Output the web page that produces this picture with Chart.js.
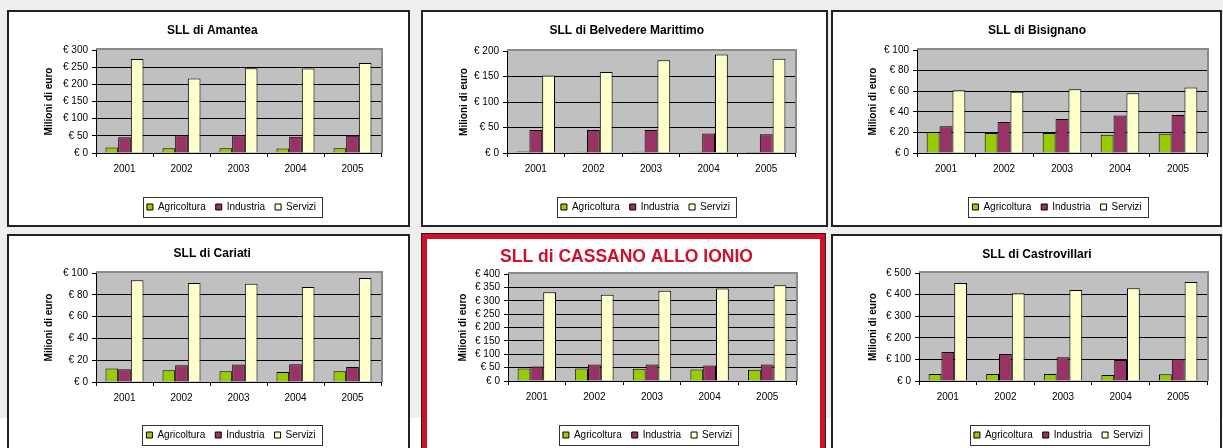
<!DOCTYPE html>
<html><head><meta charset="utf-8">
<script src="https://cdn.jsdelivr.net/npm/chart.js@4/dist/chart.umd.min.js"></script>
<style>
html,body{margin:0;padding:0;}
body{width:1223px;height:448px;position:relative;overflow:hidden;background:#fff;font-family:"Liberation Sans",Arial,sans-serif;}
#bg{position:absolute;left:0;top:0;width:1223px;height:418px;background:#eef0ef;}
.panel{position:absolute;box-sizing:border-box;background:#fff;border:2px solid #222;}
.redpanel{position:absolute;box-sizing:border-box;background:#fff;border:1px solid #222;}
.redpanel>div{position:absolute;left:0;top:0;right:0;bottom:0;border:5px solid #d0102b;}
canvas{position:absolute;}
</style></head>
<body>
<div id="bg"></div>
<div class="panel" style="left:7px;top:10px;width:403px;height:217px"></div>
<div class="panel" style="left:421px;top:10px;width:407px;height:217px"></div>
<div class="panel" style="left:831px;top:10px;width:391px;height:217px"></div>
<div class="panel" style="left:7px;top:234px;width:403px;height:230px"></div>
<div class="redpanel" style="left:421px;top:233px;width:405px;height:230px"><div></div></div>
<div class="panel" style="left:831px;top:234px;width:391px;height:230px"></div>
<script>
// ---------- DATA ----------
const years = ['2001', '2002', '2003', '2004', '2005'];
const seriesNames = ['Agricoltura', 'Industria', 'Servizi'];
const panelTitles = ['SLL di Amantea', 'SLL di Belvedere Marittimo', 'SLL di Bisignano',
                     'SLL di Cariati', 'SLL di CASSANO ALLO IONIO', 'SLL di Castrovillari'];
const yAxisTitle = 'Milioni di euro';
const yAxisMax  = [300, 200, 100, 100, 400, 500];
const yAxisStep = [50, 50, 20, 20, 50, 100];

const amanteaAgricoltura = [16, 14, 14, 13, 14];
const amanteaIndustria   = [46, 52, 52, 47, 50];
const amanteaServizi     = [274, 217, 247, 246, 262];

const belvedereAgricoltura = [3, 2.6, 2.5, 2.5, 2];
const belvedereIndustria   = [45, 45, 45, 38, 37];
const belvedereServizi     = [152, 159, 182, 193, 185];

const bisignanoAgricoltura = [20.3, 19.4, 19.4, 17.7, 18.7];
const bisignanoIndustria   = [26, 30, 33, 36.5, 37];
const bisignanoServizi     = [61, 59.4, 62, 58, 63.5];

const cariatiAgricoltura = [12.3, 10.7, 9.8, 9.2, 9.8];
const cariatiIndustria   = [11.7, 15.3, 16, 16.3, 13.8];
const cariatiServizi     = [93.3, 90.8, 90.2, 87.1, 95.4];

const cassanoAgricoltura = [47, 47, 46, 43, 42];
const cassanoIndustria   = [54, 62, 62, 58, 62];
const cassanoServizi     = [332, 322, 337, 346, 358];

const castrovillariAgricoltura = [32, 32, 32, 28, 31];
const castrovillariIndustria   = [134, 125, 110, 97, 99];
const castrovillariServizi     = [454, 406, 421, 429, 458];

// ---------- STYLE / LAYOUT ----------
const seriesColors = ['#99cc00', '#993366', '#ffffcc'];
const FONT = '"Liberation Sans", Arial, sans-serif';

const panels = [
  {i:0, data:[amanteaAgricoltura, amanteaIndustria, amanteaServizi],
   canvas:[9,12,399,213], plot:[96,50,381,153], titleY:31, legendX:231.5, legendY:207, axisTitleX:49.5},
  {i:1, data:[belvedereAgricoltura, belvedereIndustria, belvedereServizi],
   canvas:[423,12,403,213], plot:[507,51,795,153], titleY:31, legendX:645.5, legendY:207, axisTitleX:464.5},
  {i:2, data:[bisignanoAgricoltura, bisignanoIndustria, bisignanoServizi],
   canvas:[833,12,387,213], plot:[917,50,1207,153], titleY:31, legendX:1057, legendY:207, axisTitleX:873},
  {i:3, data:[cariatiAgricoltura, cariatiIndustria, cariatiServizi],
   canvas:[9,236,399,220], plot:[96,273,381,382], titleY:254, legendX:231, legendY:435, axisTitleX:49.5},
  {i:4, data:[cassanoAgricoltura, cassanoIndustria, cassanoServizi],
   canvas:[427,239,393,220], plot:[508,274,796,381], titleY:257, legendX:647.5, legendY:435, axisTitleX:463,
   titleFont:{family:FONT, size:17.5, weight:'bold', lineHeight:1.2}, titleColor:'#d0102b'},
  {i:5, data:[castrovillariAgricoltura, castrovillariIndustria, castrovillariServizi],
   canvas:[833,236,387,220], plot:[919,273,1207,381], titleY:255, legendX:1058.5, legendY:435, axisTitleX:873}
];

const plotDeco = {
  id: 'plotDeco',
  beforeDraw(chart) {
    const {ctx, chartArea: a} = chart;
    ctx.save();
    ctx.fillStyle = '#c0c0c0';
    ctx.fillRect(a.left, a.top, a.right - a.left, a.bottom - a.top);
    ctx.fillStyle = '#8a8a8a';
    ctx.fillRect(a.left, a.top - 2, a.right - a.left + 2, 2);
    ctx.fillRect(a.right, a.top - 2, 2, a.bottom - a.top + 2);
    ctx.restore();
  },
  afterLayout(chart, args, opts) {
    const lg = chart.legend;
    if (!lg) return;
    const w = lg.right - lg.left;
    lg.left = opts.legendX - w / 2;
    lg.right = opts.legendX + w / 2;
  },
  afterDraw(chart) {
    const hb = chart.legend && chart.legend.legendHitBoxes;
    if (!hb || !hb.length) return;
    const f = hb[0], l = hb[hb.length - 1];
    const x1 = Math.round(f.left - 4) + 0.5, x2 = Math.round(l.left + l.width + 6) + 0.5;
    const y1 = Math.round(f.top - 5) + 0.5, y2 = Math.round(f.top + f.height + 5) + 0.5;
    const ctx = chart.ctx;
    ctx.save();
    ctx.strokeStyle = '#333';
    ctx.lineWidth = 1;
    ctx.strokeRect(x1, y1, x2 - x1, y2 - y1);
    ctx.restore();
  }
};

panels.forEach(p => {
  const [cx, cy, cw, ch] = p.canvas;
  const [L, T, R, B] = p.plot;
  const cnv = document.createElement('canvas');
  cnv.width = cw; cnv.height = ch;
  cnv.style.left = cx + 'px'; cnv.style.top = cy + 'px';
  cnv.style.width = cw + 'px'; cnv.style.height = ch + 'px';
  document.body.appendChild(cnv);

  const l = L - cx, t = T - cy, r = R - cx, b = B - cy;
  const tf = p.titleFont || {family: FONT, size: 12, weight: 'bold', lineHeight: 1.2};
  const tLH = tf.size * tf.lineHeight;
  const tPadTop = (p.titleY - cy) - tLH / 2;
  const tPadBottom = t - tPadTop - tLH;
  const axLH = 12;
  const pl = p.axisTitleX - cx - axLH / 2;
  const yw = l - pl;
  const pr = cw - r;
  const lp = 10, itemH = 10;
  const legH = itemH + lp + 10;
  const legTop = (p.legendY - cy) - lp - itemH / 2;
  const pb = ch - legTop - legH;
  const xh = legTop - b;
  const max = yAxisMax[p.i], step = yAxisStep[p.i];

  new Chart(cnv, {
    type: 'bar',
    data: {
      labels: years,
      datasets: p.data.map((d, k) => ({
        label: seriesNames[k], data: d,
        backgroundColor: seriesColors[k], borderColor: '#000', borderWidth: 1,
        categoryPercentage: 0.667, barPercentage: 1
      }))
    },
    options: {
      responsive: false, animation: false, devicePixelRatio: 1,
      layout: {padding: {left: pl, right: pr, top: 0, bottom: pb}},
      plugins: {
        title: {display: true, text: panelTitles[p.i], color: p.titleColor || '#000',
                font: tf, padding: {top: tPadTop, bottom: tPadBottom}},
        legend: {position: 'bottom',
                 labels: {boxWidth: 6, boxHeight: 6, padding: lp, color: '#000',
                          font: {family: FONT, size: 10}}},
        tooltip: {enabled: false},
        plotDeco: {legendX: p.legendX - cx}
      },
      scales: {
        x: {
          grid: {display: true, drawOnChartArea: false, drawTicks: true, tickLength: 4,
                 color: '#000', offset: true},
          border: {color: '#000', width: 1},
          ticks: {color: '#000', font: {family: FONT, size: 10}, padding: 6, maxRotation: 0},
          afterFit: s => { s.height = xh; }
        },
        y: {
          min: 0, max: max,
          ticks: {stepSize: step, autoSkip: false, color: '#000', padding: 4,
                  font: {family: FONT, size: 10, lineHeight: 1},
                  callback: v => '€ ' + v},
          grid: {color: c => (c.tick && c.tick.value === max) ? 'rgba(0,0,0,0)' : '#000',
                 tickColor: '#000', tickLength: 4, lineWidth: 1},
          border: {color: '#000', width: 1},
          title: {display: true, text: yAxisTitle, color: '#000', padding: 0,
                  font: {family: FONT, size: 10, weight: 'bold', lineHeight: 1.2}},
          afterFit: s => { s.width = yw; }
        }
      }
    },
    plugins: [plotDeco]
  });
});
</script>
</body></html>
